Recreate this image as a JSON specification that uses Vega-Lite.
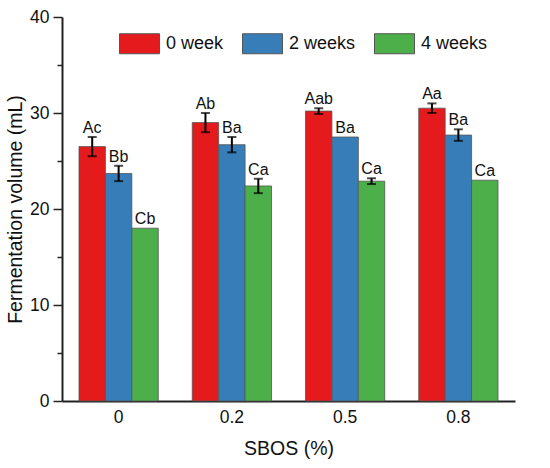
{
  "$schema": "https://vega.github.io/schema/vega-lite/v6.json",
  "width": 453,
  "height": 384,
  "autosize": {"type": "none"},
  "padding": {"left": 62, "top": 17, "right": 35, "bottom": 67},
  "background": "white",
  "data": {
    "values": [
      {"sbos": "0", "week": "0 week", "mean": 26.5, "err": 1.0, "group": "Ac"},
      {"sbos": "0", "week": "2 weeks", "mean": 23.7, "err": 0.8, "group": "Bb"},
      {"sbos": "0", "week": "4 weeks", "mean": 18.0, "err": null, "group": "Cb"},
      {"sbos": "0.2", "week": "0 week", "mean": 29.0, "err": 1.0, "group": "Ab"},
      {"sbos": "0.2", "week": "2 weeks", "mean": 26.7, "err": 0.8, "group": "Ba"},
      {"sbos": "0.2", "week": "4 weeks", "mean": 22.4, "err": 0.75, "group": "Ca"},
      {"sbos": "0.5", "week": "0 week", "mean": 30.2, "err": 0.3, "group": "Aab"},
      {"sbos": "0.5", "week": "2 weeks", "mean": 27.5, "err": null, "group": "Ba"},
      {"sbos": "0.5", "week": "4 weeks", "mean": 22.9, "err": 0.3, "group": "Ca"},
      {"sbos": "0.8", "week": "0 week", "mean": 30.5, "err": 0.5, "group": "Aa"},
      {"sbos": "0.8", "week": "2 weeks", "mean": 27.7, "err": 0.6, "group": "Ba"},
      {"sbos": "0.8", "week": "4 weeks", "mean": 23.0, "err": null, "group": "Ca"}
    ]
  },
  "transform": [
    {"calculate": "datum.mean - (datum.err || 0)", "as": "lo"},
    {"calculate": "datum.mean + (datum.err || 0)", "as": "hi"}
  ],
  "encoding": {
    "x": {
      "field": "sbos",
      "type": "nominal",
      "sort": ["0", "0.2", "0.5", "0.8"],
      "scale": {"paddingInner": 0.3, "paddingOuter": 0.15},
      "title": "SBOS (%)",
      "axis": {
        "labelAngle": 0,
        "ticks": false,
        "labelPadding": 7,
        "titlePadding": 14,
        "domainWidth": 2,
        "domainColor": "#222222"
      }
    },
    "xOffset": {
      "field": "week",
      "type": "nominal",
      "sort": ["0 week", "2 weeks", "4 weeks"],
      "scale": {"paddingInner": 0, "paddingOuter": 0}
    }
  },
  "layer": [
    {
      "mark": {"type": "bar", "stroke": "#555555", "strokeWidth": 0.8},
      "encoding": {
        "y": {
          "field": "mean",
          "type": "quantitative",
          "scale": {"domain": [0, 40], "nice": false},
          "title": "Fermentation volume (mL)",
          "axis": {
            "values": [0, 5, 10, 15, 20, 25, 30, 35, 40],
            "labelExpr": "datum.value % 10 == 0 ? datum.label : ''",
            "grid": false,
            "tickSize": {"condition": {"test": "datum.value % 10 != 0", "value": 5}, "value": 9},
            "tickWidth": 1.5,
            "tickColor": "#222222",
            "domainWidth": 2,
            "domainColor": "#222222",
            "labelPadding": 4,
            "titlePadding": 4
          }
        },
        "color": {
          "field": "week",
          "type": "nominal",
          "sort": ["0 week", "2 weeks", "4 weeks"],
          "scale": {"range": ["#e41a1c", "#377eb8", "#4daf4a"]},
          "legend": {
            "title": null,
            "orient": "none",
            "direction": "horizontal",
            "legendX": 57,
            "legendY": 6,
            "symbolType": "M-1,-0.5L1,-0.5L1,0.5L-1,0.5Z",
            "symbolSize": 1600,
            "symbolStrokeColor": "#555555",
            "symbolStrokeWidth": 1,
            "symbolOpacity": 1,
            "labelFontSize": 18,
            "labelOffset": 6,
            "columnPadding": 16,
            "labelColor": "#111111",
            "labelFont": "Liberation Sans"
          }
        }
      }
    },
    {
      "transform": [{"filter": "datum.err != null"}],
      "mark": {"type": "rule", "color": "black", "strokeWidth": 2},
      "encoding": {
        "y": {"field": "lo", "type": "quantitative"},
        "y2": {"field": "hi"}
      }
    },
    {
      "transform": [{"filter": "datum.err != null"}],
      "mark": {"type": "tick", "color": "black", "thickness": 2, "size": 9},
      "encoding": {"y": {"field": "lo", "type": "quantitative"}}
    },
    {
      "transform": [{"filter": "datum.err != null"}],
      "mark": {"type": "tick", "color": "black", "thickness": 2, "size": 9},
      "encoding": {"y": {"field": "hi", "type": "quantitative"}}
    },
    {
      "mark": {
        "type": "text",
        "baseline": "bottom",
        "dy": -1,
        "fontSize": 16,
        "color": "#111111",
        "font": "Liberation Sans"
      },
      "encoding": {
        "y": {"field": "hi", "type": "quantitative"},
        "text": {"field": "group"}
      }
    }
  ],
  "config": {
    "view": {"stroke": null},
    "font": "Liberation Sans",
    "axis": {
      "labelFont": "Liberation Sans",
      "labelFontSize": 17.5,
      "labelColor": "#111111",
      "titleFont": "Liberation Sans",
      "titleFontSize": 19.5,
      "titleFontWeight": "normal",
      "titleColor": "#111111"
    }
  }
}
